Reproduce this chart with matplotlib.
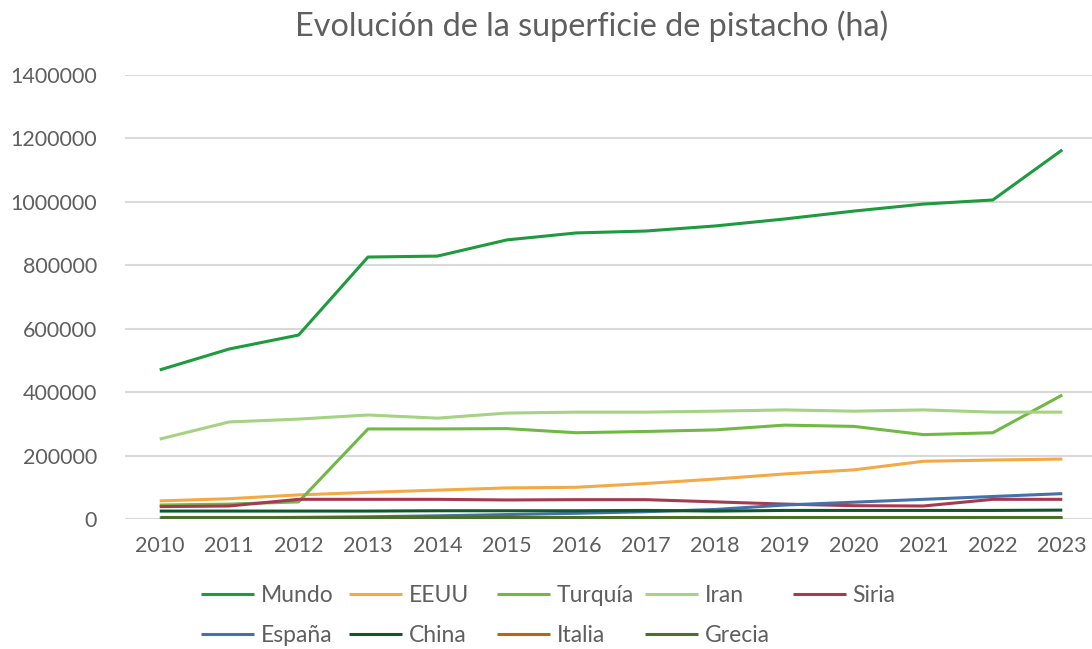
import numpy as np
import matplotlib.pyplot as plt

# Years on the x axis
years = list(range(2010, 2024))

# Surface in hectares
mundo = [470000, 536000, 580000, 826000, 829000, 880000, 902000, 908000, 924000, 946000, 971000, 993000, 1006000, 1164000]
eeuu = [57000, 64000, 76000, 84000, 91000, 98000, 100000, 112000, 126000, 142000, 155000, 182000, 186000, 189000]
turquia = [44000, 47000, 54000, 284000, 284000, 285000, 272000, 276000, 281000, 296000, 292000, 266000, 272000, 391000]
iran = [252000, 306000, 315000, 328000, 318000, 334000, 337000, 337000, 340000, 344000, 340000, 344000, 337000, 337000]
siria = [39000, 41000, 62000, 62000, 62000, 60000, 61000, 61000, 54000, 47000, 42000, 41000, 62000, 62000]
espana = [3000, 4000, 5000, 7000, 10000, 14000, 18000, 23000, 30000, 44000, 53000, 62000, 71000, 80000]
china = [25000, 25000, 25000, 25000, 26000, 26000, 26000, 27000, 25000, 27000, 27000, 27000, 27000, 28000]
italia = [3000, 3000, 3000, 3000, 3000, 3000, 3000, 3000, 3000, 3000, 3000, 3000, 3000, 3000]
grecia = [5000, 5000, 5000, 5000, 5000, 5000, 5000, 5000, 5000, 5000, 5000, 5000, 5000, 5000]

series = [
    ("Mundo", mundo, "#1e9a3f"),
    ("EEUU", eeuu, "#f4a945"),
    ("Turquía", turquia, "#6fb944"),
    ("Iran", iran, "#a5d283"),
    ("Siria", siria, "#a63a50"),
    ("España", espana, "#4472a8"),
    ("China", china, "#0c5a2b"),
    ("Italia", italia, "#b5660f"),
    ("Grecia", grecia, "#4b7129"),
]

yticks = np.arange(0, 1400001, 200000)
grey = "#5f5f5f"

plt.rcParams['font.family'] = ['Lato', 'DejaVu Sans']

fig = plt.figure(figsize=(10.92, 6.49), dpi=100)
ax = fig.add_axes([125 / 1092, 1 - 519 / 649, 972 / 1092, 444 / 649])

handles = {}
for name, vals, col in series:
    ln, = ax.plot(years, vals, color=col, lw=2.2, solid_capstyle='butt', label=name)
    handles[name] = ln

ax.set_xlim(2009.5, 2023.5)
ax.set_ylim(0, 1400000)
ax.set_xticks(years)
ax.set_yticks(yticks)
ax.set_yticklabels([str(v) for v in yticks])
ax.grid(axis='y', color='#d9d9d9', lw=1.5)
ax.set_axisbelow(True)
for s in ax.spines.values():
    s.set_visible(False)
ax.tick_params(axis='both', length=0, labelsize=15.5, labelcolor=grey)
ax.tick_params(axis='y', pad=20)
ax.tick_params(axis='x', pad=12)

fig.text(592 / 1092, 1 - 26 / 649, "Evolución de la superficie de pistacho (ha)",
         ha='center', va='center', fontsize=23.3, color=grey)

# Excel style legend: equal width columns, one small legend per column
columns = [["Mundo", "España"], ["EEUU", "China"], ["Turquía", "Italia"], ["Iran", "Grecia"], ["Siria"]]
for i, names in enumerate(columns):
    leg = fig.legend([handles[n] for n in names], names, loc='upper left',
                     bbox_to_anchor=((201 + 148 * i) / 1092, 1 - 585 / 649), frameon=False,
                     fontsize=16.5, handlelength=2.3, handletextpad=0.3,
                     borderpad=0, borderaxespad=0, labelspacing=0.82)
    for t in leg.get_texts():
        t.set_color(grey)

fig.savefig("out.png", dpi=100)
